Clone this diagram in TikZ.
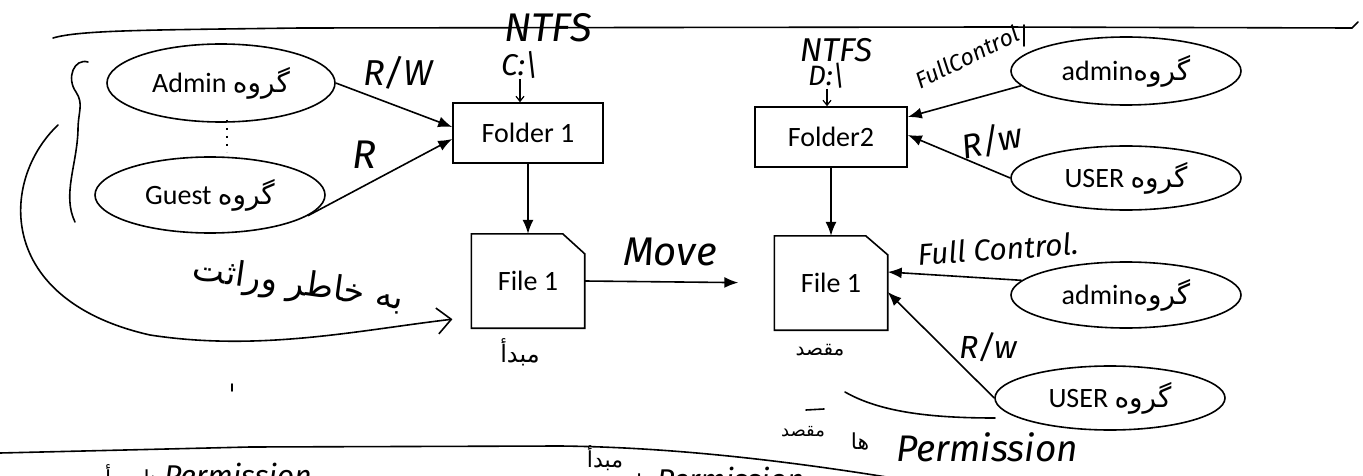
\documentclass[tikz,border=0pt]{standalone}
\usepackage{fontspec}
\setmainfont{Carlito}
\newfontfamily\hand{Fira Sans}
\newfontfamily\arabicfont[Script=Arabic]{DejaVu Sans}
\TeXXeTstate=1
\usetikzlibrary{arrows.meta,shapes.geometric,calc}
\newcommand\pz[1]{{\arabicfont\beginR #1\endR}}
\newcommand\fsz[1]{\fontsize{#1}{#1}\selectfont}
\begin{document}
\begin{tikzpicture}[x=1pt,y=-1pt,
  grp/.style={ellipse,draw,line width=1.6pt,inner sep=0pt,minimum width=230pt,font=\fsz{28}},
  boxn/.style={rectangle,draw,line width=1.6pt,minimum width=150pt,minimum height=60pt,inner sep=0pt,font=\fsz{28}},
  filen/.style={rectangle,minimum width=113pt,minimum height=94pt,inner sep=0pt,font=\fsz{28}},
  arr/.style={line width=1.6pt,-{Latex[length=14pt,width=11pt]}},
  sarr/.style={line width=1.2pt,-{Straight Barb[length=5pt,width=8pt]}},
  hl/.style={line width=1.6pt,line cap=round},
  hw/.style={font=\hand\itshape\fsz{#1},inner sep=0pt},
  ar/.style={font=\arabicfont\fsz{#1},inner sep=0pt}]
\fill[white] (0,0) rectangle (1363,476);
\useasboundingbox (0,0) rectangle (1363,476);
\clip (0,0) rectangle (1363,476);

% ---- main nodes ----
\node[grp,minimum width=228pt,minimum height=78pt] (admin1) at (221,83) {Admin \pz{گروه}};
\node[grp,minimum height=76pt] (guest) at (210,195) {Guest \pz{گروه}};
\node[boxn] (folder1) at (528,133) {Folder 1};
\node[filen] (file1) at (528,281) {File 1};
\draw[line width=1.6pt] (file1.north west) -- ([xshift=-22pt]file1.north east) -- ([yshift=-20pt]file1.north east) -- (file1.south east) -- (file1.south west) -- cycle;

\node[boxn,minimum width=152pt] (folder2) at (831,137) {Folder2};
\node[filen] (file2) at (831,283) {File 1};
\draw[line width=1.6pt] (file2.north west) -- ([xshift=-22pt]file2.north east) -- ([yshift=-19pt]file2.north east) -- (file2.south east) -- (file2.south west) -- cycle;

\node[grp,minimum height=68pt] (admin2) at (1126,71) {admin\pz{گروه}};
\node[grp,minimum height=64pt] (user2) at (1126,178) {USER \pz{گروه}};
\node[grp,minimum height=66pt] (admin3) at (1126,295) {admin\pz{گروه}};
\node[grp,minimum height=64pt] (user3) at (1110,398) {USER \pz{گروه}};

% ---- connectors ----
\draw[arr] (admin1.east) -- ([yshift=6pt]folder1.west);
\draw[arr] (guest.-12) -- ([yshift=-6pt]folder1.west);
\draw[arr] (folder1.south) -- (file1.north);
\draw[arr,shorten >=36pt] (file1.east) -- (file2.west);
\draw[arr] (folder2.south) -- (file2.north);
\draw[arr] (admin2.188) -- ([yshift=20pt]folder2.east);
\draw[arr] (user2.west) -- ([yshift=2pt]folder2.east);
\draw[arr] (admin3.172) -- ([yshift=11pt]file2.east);
\draw[arr] (user3.west) -- ([yshift=-9pt]file2.east);

% ---- handwritten labels ----
\node[hw=40] (ntfs1) at (548,28) {NTFS};
\node[hw=30] (lc) at (520,65) {C:\textbackslash};
\draw[sarr] (lc.south) -- (lc.south |- folder1.north);
\node[hw=33] (ntfs2) at (836,50) {NTFS};
\node[hw=28] (ld) at (827,76) {D:\textbackslash};
\draw[sarr] (ld.south) -- (ld.south |- folder2.north);

\node[hw=36] (lrw1) at (398,73) {R/W};
\node[hw=40] (lr1) at (364,155) {R};
\node[hw=23,rotate=26] (lfc1) at (967,57) {FullControl};
\draw[hl] (1024,25) -- (1024,46);
\node[hw=34,rotate=12] (lrw2) at (992,141) {R/w};
\node[hw=40] (lmove) at (670,252) {Move};
\node[hw=30,rotate=4] (lfc2) at (998,249) {Full Control.};
\node[hw=32] (lrw3) at (988,347) {R/w};

\node[ar=24] (lsrc) at (520,352) {\beginR مبدأ\endR};
\node[ar=20] (ldst) at (820,350) {\beginR مقصد\endR};
\node[ar=34,rotate=-8] (linh) at (298,286) {\beginR به خاطر وراثت\endR};

\node[ar=18] (pdst) at (803,432) {\beginR مقصد\endR};
\node[ar=22] (pha) at (860,441) {\beginR ها\endR};
\node[hw=37] (pperm) at (987,447) {Permission};

% bottom (cut off) texts
\node[anchor=base west,inner sep=0pt] (bl) at (105,486) {\pz{\arabicfont\fsz{22}مبدأ}\ \pz{\arabicfont\fsz{22}ها}\ {\hand\itshape\fsz{30}Permission}};
\node[ar=22] (bm) at (605,458) {\beginR مبدأ\endR};
\node[anchor=base west,inner sep=0pt] (bm2) at (636,490) {\pz{\arabicfont\fsz{22}ها}\ {\hand\itshape\fsz{30}Permission}};

% ---- free-hand strokes ----
\coordinate (inhS) at (58,125);
\draw[hl,-{Straight Barb[length=14pt,width=26pt]},shorten >=19pt] (inhS) .. controls (0,180) and (-5,300) .. (150,335) .. controls (260,352) and (360,330) .. ([yshift=-36pt]file1.west);
\draw[hl] (88,62) .. controls (74,58) and (66,78) .. (76,92) .. controls (84,104) and (78,112) .. (78,130) .. controls (77,165) and (62,195) .. (75,222);
\draw[hl] (53,38) .. controls (80,30) and (150,30) .. (300,28) -- (1000,27) -- (1352,28) -- (1358,22);
\draw[hl] (0,453) -- (250,447) -- (560,446) .. controls (650,447) and (760,456) .. (905,480);
\draw[hl] (845,392) .. controls (880,412) and (930,418) .. (995,418);
\draw[line width=1.5pt,dash pattern=on 2pt off 6pt] (227,120) -- (227,152);
\draw[hl] (232,384) -- (232,391);
\draw[hl] (806,410) -- (824,409);
\end{tikzpicture}
\end{document}
